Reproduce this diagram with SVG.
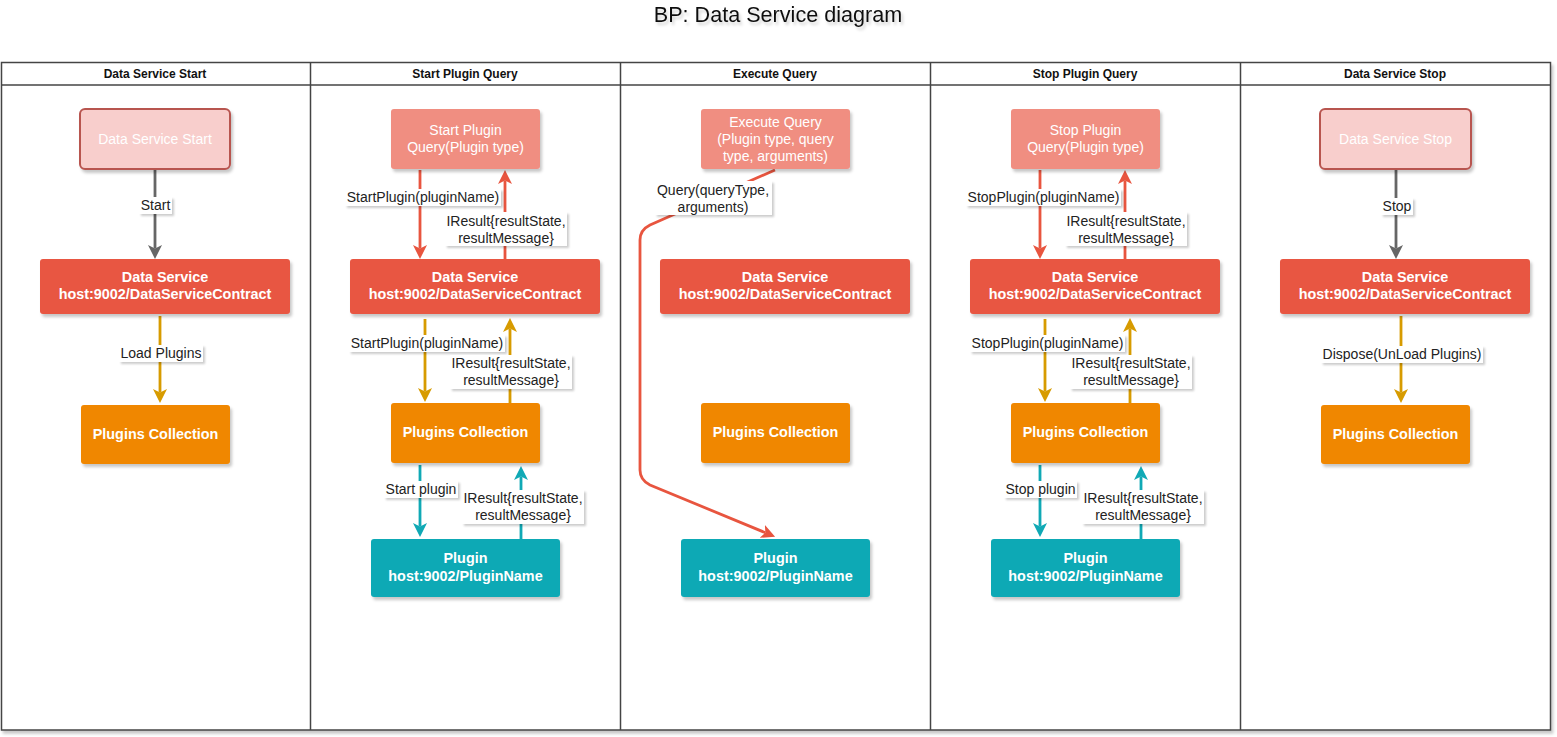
<svg xmlns="http://www.w3.org/2000/svg" width="1557" height="737" viewBox="0 0 1557 737">
<defs>
<filter id="sh" x="-10%" y="-10%" width="130%" height="140%"><feDropShadow dx="2" dy="3" stdDeviation="1.6" flood-color="#000" flood-opacity="0.22"/></filter>
<filter id="shl" x="-10%" y="-20%" width="130%" height="160%"><feDropShadow dx="2" dy="2" stdDeviation="1.2" flood-color="#000" flood-opacity="0.2"/></filter>
<filter id="sht" x="-10%" y="-30%" width="130%" height="180%"><feDropShadow dx="2" dy="3" stdDeviation="1.5" flood-color="#000" flood-opacity="0.18"/></filter>
<marker id="aGray" viewBox="0 0 12 12" markerWidth="14" markerHeight="14" markerUnits="userSpaceOnUse" refX="3" refY="6" orient="auto"><path d="M0,0 L12,6 L0,12 L3,6 z" fill="#666666"/></marker>
<marker id="aYel" viewBox="0 0 12 12" markerWidth="14" markerHeight="14" markerUnits="userSpaceOnUse" refX="3" refY="6" orient="auto"><path d="M0,0 L12,6 L0,12 L3,6 z" fill="#d79b00"/></marker>
<marker id="aRed" viewBox="0 0 12 12" markerWidth="14" markerHeight="14" markerUnits="userSpaceOnUse" refX="3" refY="6" orient="auto"><path d="M0,0 L12,6 L0,12 L3,6 z" fill="#e8553f"/></marker>
<marker id="aTeal" viewBox="0 0 12 12" markerWidth="14" markerHeight="14" markerUnits="userSpaceOnUse" refX="3" refY="6" orient="auto"><path d="M0,0 L12,6 L0,12 L3,6 z" fill="#10a9b5"/></marker>
</defs>
<style>
text{font-family:"Liberation Sans",Arial,sans-serif}
.title{font-size:21.6px;fill:#111;text-anchor:middle;filter:url(#sht)}
.hdr{font-size:12px;font-weight:bold;fill:#111;text-anchor:middle}
.nt{font-size:14px;fill:#fff;text-anchor:middle}
.nb{font-size:14.4px;font-weight:bold;fill:#fff;text-anchor:middle}
.lbl{font-size:14px;fill:#222;text-anchor:middle}
.lb{fill:#fff;filter:url(#shl)}
.ds{fill:#e85642;filter:url(#sh)}
.pc{fill:#f08705;filter:url(#sh)}
.pl{fill:#10a9b5;filter:url(#sh)}
.q{fill:#f08e81;filter:url(#sh)}
.ss{fill:#f8cecc;stroke:#b85450;stroke-width:2;filter:url(#sh)}
.e{fill:none;stroke-width:2.8}
.g{stroke:#666666;marker-end:url(#aGray)}
.y{stroke:#d79b00;marker-end:url(#aYel)}
.r{stroke:#e8553f;marker-end:url(#aRed)}
.t{stroke:#10a9b5;marker-end:url(#aTeal)}
</style>
<rect width="1557" height="737" fill="#fff"/>
<text class="title" x="778" y="22">BP: Data Service diagram</text>

<g id="pool">
<rect x="1.5" y="62.5" width="1549" height="667.5" fill="#fff" stroke="#444" stroke-width="1.5" filter="url(#sh)"/>
<line x1="1.5" y1="85" x2="1550.5" y2="85" stroke="#444" stroke-width="1.5"/>
<line x1="310.5" y1="62.5" x2="310.5" y2="730" stroke="#444" stroke-width="1.5"/>
<line x1="620.5" y1="62.5" x2="620.5" y2="730" stroke="#444" stroke-width="1.5"/>
<line x1="930.5" y1="62.5" x2="930.5" y2="730" stroke="#444" stroke-width="1.5"/>
<line x1="1240.5" y1="62.5" x2="1240.5" y2="730" stroke="#444" stroke-width="1.5"/>
<text class="hdr" x="155" y="78">Data Service Start</text>
<text class="hdr" x="465" y="78">Start Plugin Query</text>
<text class="hdr" x="775" y="78">Execute Query</text>
<text class="hdr" x="1085" y="78">Stop Plugin Query</text>
<text class="hdr" x="1395" y="78">Data Service Stop</text>
</g>

<g id="connectors">
<!-- lane 1 -->
<line class="e g" x1="155" y1="170" x2="155" y2="248.5"/>
<line class="e y" x1="160" y1="316" x2="160" y2="392.5"/>
<!-- lane 2 -->
<line class="e r" x1="420" y1="170" x2="420" y2="248.5"/>
<line class="e r" x1="505" y1="259" x2="505" y2="180.5"/>
<line class="e y" x1="425" y1="319" x2="425" y2="391.5"/>
<line class="e y" x1="510" y1="403" x2="510" y2="328.5"/>
<line class="e t" x1="420" y1="465" x2="420" y2="526.5"/>
<line class="e t" x1="521" y1="539" x2="521" y2="476.5"/>
<!-- lane 3 -->
<path class="e r" d="M775,170 L650,225 Q640,230 640,240 L640,470 Q640,480 650,485 L765.4,532.7"/>
<!-- lane 4 -->
<line class="e r" x1="1040" y1="170" x2="1040" y2="248.5"/>
<line class="e r" x1="1125" y1="259" x2="1125" y2="180.5"/>
<line class="e y" x1="1045" y1="319" x2="1045" y2="391.5"/>
<line class="e y" x1="1130" y1="403" x2="1130" y2="328.5"/>
<line class="e t" x1="1040" y1="465" x2="1040" y2="526.5"/>
<line class="e t" x1="1141" y1="539" x2="1141" y2="476.5"/>
<!-- lane 5 -->
<line class="e g" x1="1396" y1="170" x2="1396" y2="248.5"/>
<line class="e y" x1="1401" y1="316" x2="1401" y2="392.5"/>

<!-- labels -->
<rect class="lb" x="139" y="197" width="33" height="17"/>
<text class="lbl" x="155.5" y="210">Start</text>
<rect class="lb" x="119" y="345" width="84" height="17"/>
<text class="lbl" x="161" y="358">Load Plugins</text>

<rect class="lb" x="345" y="189" width="156" height="17"/>
<text class="lbl" x="423" y="202">StartPlugin(pluginName)</text>
<rect class="lb" x="445" y="212" width="122" height="34"/>
<text class="lbl" x="506" y="226">IResult{resultState,</text>
<text class="lbl" x="506" y="243">resultMessage}</text>
<rect class="lb" x="349" y="335" width="156" height="17"/>
<text class="lbl" x="427" y="348">StartPlugin(pluginName)</text>
<rect class="lb" x="450" y="355" width="122" height="34"/>
<text class="lbl" x="511" y="368">IResult{resultState,</text>
<text class="lbl" x="511" y="385">resultMessage}</text>
<rect class="lb" x="384" y="481" width="74" height="17"/>
<text class="lbl" x="421" y="494">Start plugin</text>
<rect class="lb" x="462" y="490" width="122" height="34"/>
<text class="lbl" x="523" y="503">IResult{resultState,</text>
<text class="lbl" x="523" y="520">resultMessage}</text>

<rect class="lb" x="655" y="181" width="117" height="34"/>
<text class="lbl" x="713" y="195">Query(queryType,</text>
<text class="lbl" x="713" y="212">arguments)</text>

<rect class="lb" x="966" y="189" width="155" height="17"/>
<text class="lbl" x="1043.5" y="202">StopPlugin(pluginName)</text>
<rect class="lb" x="1065" y="212" width="122" height="34"/>
<text class="lbl" x="1126" y="226">IResult{resultState,</text>
<text class="lbl" x="1126" y="243">resultMessage}</text>
<rect class="lb" x="970" y="335" width="155" height="17"/>
<text class="lbl" x="1047.5" y="348">StopPlugin(pluginName)</text>
<rect class="lb" x="1070" y="355" width="122" height="34"/>
<text class="lbl" x="1131" y="368">IResult{resultState,</text>
<text class="lbl" x="1131" y="385">resultMessage}</text>
<rect class="lb" x="1004" y="481" width="73" height="17"/>
<text class="lbl" x="1040.5" y="494">Stop plugin</text>
<rect class="lb" x="1082" y="490" width="122" height="34"/>
<text class="lbl" x="1143" y="503">IResult{resultState,</text>
<text class="lbl" x="1143" y="520">resultMessage}</text>

<rect class="lb" x="1381" y="198" width="32" height="17"/>
<text class="lbl" x="1397" y="211">Stop</text>
<rect class="lb" x="1321" y="346" width="162" height="17"/>
<text class="lbl" x="1402" y="359">Dispose(UnLoad Plugins)</text>
</g>

<!-- lane 1 nodes -->
<g id="ds-start"><rect class="ss" x="80" y="109" width="150" height="60" rx="5"/><text class="nt" x="155" y="144">Data Service Start</text></g>
<g id="ds1"><rect class="ds" x="40" y="259" width="250" height="55" rx="3"/><text class="nb" x="165" y="282">Data Service</text><text class="nb" x="165" y="299">host:9002/DataServiceContract</text></g>
<g id="pc1"><rect class="pc" x="81" y="405" width="149" height="59" rx="3"/><text class="nb" x="155.5" y="439">Plugins Collection</text></g>

<!-- lane 2 nodes -->
<g id="q2"><rect class="q" x="391" y="109" width="149" height="60" rx="3"/><text class="nt" x="465.5" y="135">Start Plugin</text><text class="nt" x="465.5" y="152">Query(Plugin type)</text></g>
<g id="ds2"><rect class="ds" x="350" y="259" width="250" height="55" rx="3"/><text class="nb" x="475" y="282">Data Service</text><text class="nb" x="475" y="299">host:9002/DataServiceContract</text></g>
<g id="pc2"><rect class="pc" x="391" y="403" width="149" height="60" rx="3"/><text class="nb" x="465.5" y="437">Plugins Collection</text></g>
<g id="pl2"><rect class="pl" x="371" y="539" width="189" height="58" rx="3"/><text class="nb" x="465.5" y="563">Plugin</text><text class="nb" x="465.5" y="581">host:9002/PluginName</text></g>

<!-- lane 3 nodes -->
<g id="q3"><rect class="q" x="701" y="109" width="149" height="60" rx="3"/><text class="nt" x="775.5" y="127">Execute Query</text><text class="nt" x="775.5" y="144">(Plugin type, query</text><text class="nt" x="775.5" y="161">type, arguments)</text></g>
<g id="ds3"><rect class="ds" x="660" y="259" width="250" height="55" rx="3"/><text class="nb" x="785" y="282">Data Service</text><text class="nb" x="785" y="299">host:9002/DataServiceContract</text></g>
<g id="pc3"><rect class="pc" x="701" y="403" width="149" height="60" rx="3"/><text class="nb" x="775.5" y="437">Plugins Collection</text></g>
<g id="pl3"><rect class="pl" x="681" y="539" width="189" height="58" rx="3"/><text class="nb" x="775.5" y="563">Plugin</text><text class="nb" x="775.5" y="581">host:9002/PluginName</text></g>

<!-- lane 4 nodes -->
<g id="q4"><rect class="q" x="1011" y="109" width="149" height="60" rx="3"/><text class="nt" x="1085.5" y="135">Stop Plugin</text><text class="nt" x="1085.5" y="152">Query(Plugin type)</text></g>
<g id="ds4"><rect class="ds" x="970" y="259" width="250" height="55" rx="3"/><text class="nb" x="1095" y="282">Data Service</text><text class="nb" x="1095" y="299">host:9002/DataServiceContract</text></g>
<g id="pc4"><rect class="pc" x="1011" y="403" width="149" height="60" rx="3"/><text class="nb" x="1085.5" y="437">Plugins Collection</text></g>
<g id="pl4"><rect class="pl" x="991" y="539" width="189" height="58" rx="3"/><text class="nb" x="1085.5" y="563">Plugin</text><text class="nb" x="1085.5" y="581">host:9002/PluginName</text></g>

<!-- lane 5 nodes -->
<g id="ds-stop"><rect class="ss" x="1320" y="109" width="151" height="60" rx="5"/><text class="nt" x="1395.5" y="144">Data Service Stop</text></g>
<g id="ds5"><rect class="ds" x="1280" y="259" width="250" height="55" rx="3"/><text class="nb" x="1405" y="282">Data Service</text><text class="nb" x="1405" y="299">host:9002/DataServiceContract</text></g>
<g id="pc5"><rect class="pc" x="1321" y="405" width="149" height="59" rx="3"/><text class="nb" x="1395.5" y="439">Plugins Collection</text></g>
</svg>
